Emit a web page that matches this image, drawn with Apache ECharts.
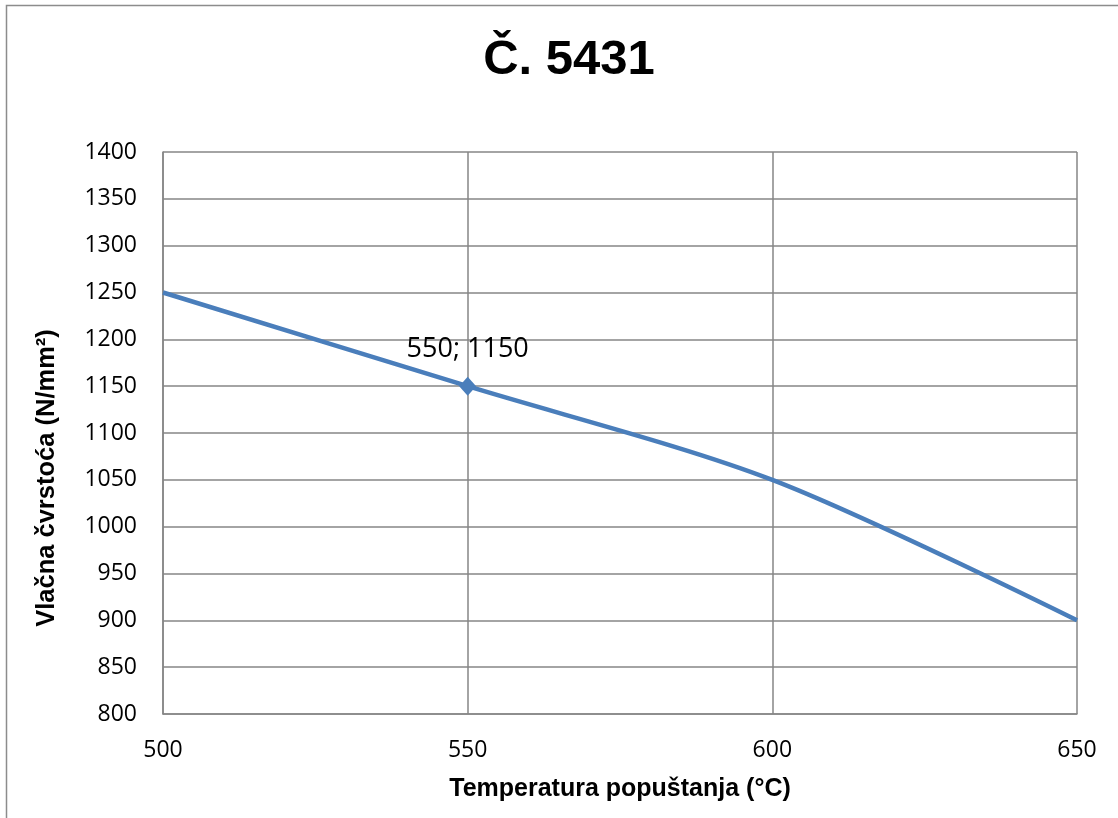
<!DOCTYPE html>
<html><head><meta charset="utf-8">
<script src="https://cdn.jsdelivr.net/npm/echarts@6/dist/echarts.min.js"></script>
<style>html,body{margin:0;padding:0;background:#fff}#c{width:1118px;height:818px}</style>
</head><body><div id="c"></div>
<script>
const titleText = 'Č. 5431';
const xName = 'Temperatura popuštanja (°C)';
const yName = 'Vlačna čvrstoća (N/mm²)';
const temps = [500, 550, 600, 650];
const strength = [1250, 1150, 1050, 900];
const labelledIndex = 1;

const chart = echarts.init(document.getElementById('c'));
const data = temps.map((t, i) => {
  const p = { value: [t, strength[i]] };
  if (i === labelledIndex) {
    p.symbol = 'diamond';
    p.symbolSize = [17, 19];
    p.label = { show: true, position: 'top', distance: 14,
      formatter: t + '; ' + strength[i], fontSize: 27, color: '#000', fontFamily: 'Open Sans' };
  }
  return p;
});
chart.setOption({
  animation: false,
  title: { text: titleText, left: 564, textAlign: 'center', top: 31,
    textStyle: { fontFamily: 'Liberation Sans', fontWeight: 'bold', fontSize: 49, color: '#000' } },
  graphic: [
    { type: 'rect', shape: { x: 6.5, y: 5.5, width: 1130, height: 830 },
      style: { fill: 'none', stroke: '#8c8c8c', lineWidth: 1.5 }, silent: true },
    { type: 'text', x: 47, y: 478, rotation: Math.PI / 2,
      style: { text: yName, fontFamily: 'Liberation Sans', fontWeight: 'bold', fontSize: 25.5,
        fill: '#000', align: 'center', verticalAlign: 'middle' }, silent: true }
  ],
  grid: { left: 163, top: 152, right: 41, bottom: 104, containLabel: false },
  xAxis: { type: 'value', min: 500, max: 650, interval: 50,
    name: xName, nameLocation: 'middle', nameGap: 63,
    nameTextStyle: { fontFamily: 'Liberation Sans', fontWeight: 'bold', fontSize: 25, color: '#000' },
    axisLine: { show: true, lineStyle: { color: '#868686', width: 1.5 } },
    axisTick: { show: false },
    axisLabel: { margin: 25, fontFamily: 'Open Sans', fontSize: 23, color: '#000',
      formatter: v => String(v) },
    splitLine: { show: true, lineStyle: { color: '#868686', width: 1.5 } } },
  yAxis: { type: 'value', min: 800, max: 1400, interval: 50,
    axisLine: { show: true, lineStyle: { color: '#868686', width: 1.5 } },
    axisTick: { show: false },
    axisLabel: { margin: 26, fontFamily: 'Open Sans', fontSize: 23, color: '#000',
      formatter: v => String(v) },
    splitLine: { show: true, lineStyle: { color: '#868686', width: 1.5 } } },
  series: [{ type: 'line', data: data, smooth: 0.3, symbol: 'none', showAllSymbol: true,
    lineStyle: { color: '#4A7EBB', width: 4.5 }, itemStyle: { color: '#4A7EBB' } }]
});
</script></body></html>
